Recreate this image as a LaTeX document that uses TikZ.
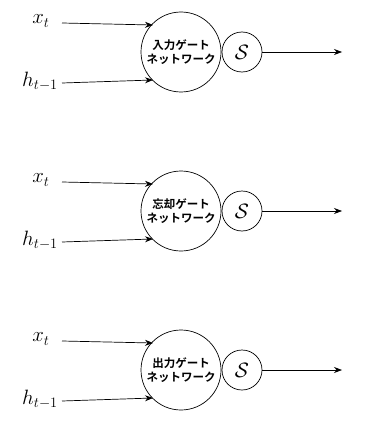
\documentclass[tikz,border=0pt]{standalone}
\usepackage{fontspec}
\newfontfamily\cjk{Noto Sans CJK JP}[BoldFont={Noto Sans CJK JP Bold}]
\usetikzlibrary{arrows.meta}
\begin{document}
\begin{tikzpicture}[x=1pt,y=-1pt,
  gate/.style={circle,draw,line width=0.7pt,minimum size=80pt,inner sep=0pt,align=center,font=\cjk\bfseries\fontsize{11.5}{14.5}\selectfont},
  sig/.style={circle,draw,line width=0.7pt,minimum size=40pt,inner sep=0pt,font=\huge},
  lab/.style={font=\huge},
  arr/.style={line width=0.7pt,-{Stealth[length=8pt,width=6pt]}}]
\useasboundingbox (0,0) rectangle (367,428);
\foreach \dy/\name/\t in {0/a/入力ゲート,159/b/忘却ゲート,318/c/出力ゲート}{
  \node[gate] (g\name) at (181,52+\dy) {\t\\ネットワーク};
  \node[sig] (s\name) at (242,52+\dy) {$\mathcal{S}$};
  \node[lab] (x\name) at (41,21+\dy) {$x_t$};
  \node[lab] (h\name) at (40,81+\dy) {$h_{t-1}$};
  \coordinate (xs\name) at (62,23+\dy);
  \coordinate (xe\name) at (153,25+\dy);
  \coordinate (hs\name) at (62,83+\dy);
  \coordinate (he\name) at (153,80+\dy);
  \coordinate (o\name) at (342,52+\dy);
  \draw[arr] (xs\name) -- (xe\name);
  \draw[arr] (hs\name) -- (he\name);
  \draw[arr] (s\name.east) -- (o\name);
}
\end{tikzpicture}
\end{document}
